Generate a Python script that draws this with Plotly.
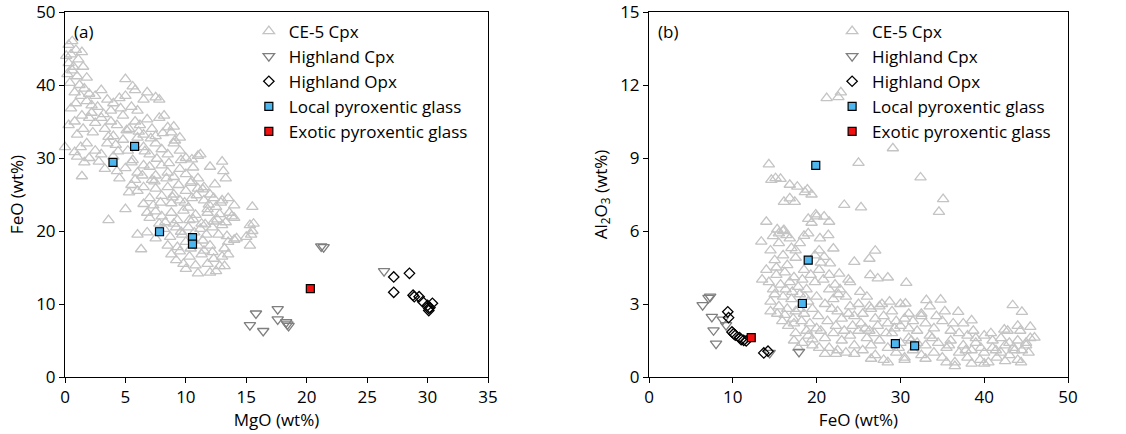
import plotly.graph_objects as go

# ---------------- Panel (a): MgO vs FeO ----------------
ce5_a_mgo = [0.3,0.6,0.1,0.5,0.9,1.4,1.1,0.3,0.7,
             0.2,0.6,1.0,1.5,1.8,0.4,1.2,1.6,0.8,2.0,1.3,
             0.5,0.9,1.8,2.5,3.0,2.7,3.5,4.0,4.5,5.0,3.8,2.2,1.4,5.5,6.0,6.5,6.8,7.5,7.8,5.0,5.6,5.8,
             0.3,0.8,1.5,2.0,2.5,3.0,3.3,3.8,4.3,4.8,5.3,5.8,6.2,6.8,7.2,7.8,8.2,8.5,9.0,1.0,2.3,4.0,6.5,7.5,8.8,9.5,
             0.0,0.8,1.3,1.8,2.5,3.0,3.5,4.2,4.8,5.2,6.0,6.5,7.0,7.5,8.0,8.5,9.0,9.5,10.0,10.5,11.0,11.2,2.0,1.0,4.0,
             1.4,1.6,2.8,3.3,4.3,5.0,5.5,6.0,6.5,7.0,7.5,8.0,8.5,9.0,9.5,10.0,10.5,11.0,12.0,13.0,13.1,13.3,4.5,5.8,7.2,11.5,
             5.5,6.0,5.3,6.5,7.0,7.5,8.0,8.5,9.0,9.5,10.0,10.5,11.0,11.5,12.0,12.3,13.0,13.5,14.0,8.8,7.3,6.5,10.2,11.8,12.5,
             5.0,6.8,7.0,7.5,8.0,8.3,8.8,9.3,9.8,10.3,10.8,11.3,11.8,12.3,12.8,13.3,13.6,14.0,13.8,15.5,7.8,9.0,3.6,
             6.0,6.8,7.5,8.2,8.7,9.2,9.7,10.2,10.7,11.2,11.7,12.2,12.7,13.0,13.4,14.0,15.0,15.3,15.5,15.6,15.4,15.3,8.5,9.3,10.0,11.0,12.0,13.5,14.2,
             6.3,8.8,9.2,9.8,10.3,10.8,11.0,11.3,11.8,12.0,12.3,12.8,13.0,13.2,13.5,10.0,12.5,11.5,9.5,
             2.2,3.2,4.6,5.1,6.1,7.1,8.1,9.1,3.6,4.4,5.6,6.6,7.6,8.6,9.6,10.6,6.4,7.4,8.4,9.4,10.4,11.4,12.4,
             7.9,8.9,9.9,10.9,11.9,12.9,9.6,10.6,11.6,12.6,10.4,11.4,12.2,13.2]
ce5_a_feo = [45.5,46.0,44.0,44.2,44.8,44.5,43.5,43.0,42.5,
             41.5,42.0,41.2,42.5,41.0,40.3,40.0,39.5,39.0,38.8,38.5,
             36.8,37.5,37.8,38.5,39.3,37.0,38.0,37.5,38.2,38.5,36.5,36.2,35.8,37.0,36.5,38.0,39.0,38.3,38.0,40.8,39.8,39.3,
             34.5,35.0,34.0,35.5,34.8,35.5,34.0,35.0,34.5,35.8,34.0,35.0,34.5,35.3,34.0,35.5,35.8,34.2,34.3,33.2,33.5,33.0,33.2,33.0,33.5,32.8,
             31.5,30.8,31.5,32.0,31.0,30.5,32.0,31.8,32.5,31.0,32.8,31.5,30.5,32.0,31.2,30.5,32.0,31.0,30.0,29.8,30.3,30.5,30.0,30.2,30.2,
             27.5,29.4,29.5,28.5,28.2,28.6,29.4,28.0,29.0,28.8,27.6,29.0,28.0,27.4,28.5,27.8,26.8,27.2,28.8,29.5,28.2,27.2,27.2,27.0,27.0,26.0,
             26.3,25.5,25.3,26.0,24.5,25.8,24.8,26.0,25.0,24.2,25.5,24.5,25.8,24.2,25.0,24.5,24.2,24.5,23.5,23.8,23.5,23.7,23.2,23.0,23.3,
             23.0,22.5,21.8,22.7,22.0,21.2,22.5,21.5,22.8,21.5,22.2,21.0,22.5,21.3,22.3,21.2,22.5,21.8,22.0,23.3,21.0,21.0,21.5,
             19.5,19.8,19.0,20.3,19.2,20.5,19.5,20.5,19.8,20.3,19.5,20.5,19.5,20.8,19.3,18.8,19.2,20.8,20.0,21.0,19.5,18.0,18.0,17.8,18.5,18.0,18.0,18.5,19.0,
             17.5,16.8,16.0,15.5,16.5,15.3,14.2,16.8,15.5,14.3,16.2,15.2,16.5,15.2,16.8,14.8,14.5,17.3,17.2,
             37.2,36.0,36.8,33.8,33.6,32.7,33.4,32.4,32.9,30.9,29.7,30.9,29.9,29.3,29.7,28.7,27.6,26.8,27.2,26.3,26.6,25.7,26.4,
             23.9,24.6,23.9,24.9,23.6,23.9,19.9,21.6,20.9,21.6,17.6,18.7,17.1,17.6]

hcpx_a_mgo = [15.3,15.8,16.4,17.6,17.6,18.3,18.4,18.5,21.4,21.2,26.4]
hcpx_a_feo = [7.1,8.7,6.3,9.3,7.9,7.5,7.2,7.0,17.8,17.9,14.5]

hopx_a_mgo = [27.2,27.2,28.5,28.8,28.9,29.3,29.6,30.0,30.4,30.1,30.2,30.1]
hopx_a_feo = [13.7,11.6,14.2,11.2,11.0,11.0,10.3,9.8,10.1,9.4,9.5,9.1]

local_a_mgo = [3.97,5.76,7.82,10.55,10.55]
local_a_feo = [29.4,31.6,19.9,19.1,18.2]

exotic_a_mgo = [20.3]
exotic_a_feo = [12.1]

# ---------------- Panel (b): FeO vs Al2O3 ----------------
ce5_b_feo = [21.2,22.6,22.9,29.1,14.3,25.0,32.4,23.3,25.3,35.1,34.6,27.0,26.3,24.5,26.4,27.3,28.5,30.7,33.1,34.8,43.4,44.5,45.5,46.0,42.4,38.5,36.9,32.5,30.6,
             14.6,15.1,15.7,16.8,16.1,16.8,17.4,17.7,18.6,18.9,19.4,
             13.4,14.0,15.3,16.1,16.4,14.8,19.4,19.9,20.9,21.5,20.4,21.4,22.0,20.9,21.6,22.7,
             14.5,15.0,15.5,16.0,16.5,17.0,17.5,18.0,18.5,19.0,14.0,14.3,14.8,15.2,15.7,16.2,16.8,17.3,17.8,18.3,18.8,19.3,19.8,20.3,20.8,
             14.5,15.0,15.5,16.0,16.5,17.0,17.5,18.0,18.5,19.0,19.5,20.0,15.3,16.2,17.2,18.2,19.2,20.2,21.0,21.5,22.0,22.5,21.3,22.8,23.5,24.0,23.0,24.5,
             25.0,25.5,26.0,26.5,27.0,27.5,28.0,28.5,29.0,29.5,30.0,30.5,31.0,31.5,32.0,33.0,34.0,35.0,36.0,37.0,38.0,39.0,40.0,41.0,42.0,43.0,44.0,45.0,45.5,
             17.3,17.5,18.3,19.0,19.5,20.5,21.0,21.5,22.0,22.5,23.0,23.5,24.0,24.5,25.0,25.5,26.0,26.5,27.0,27.5,28.0,28.5,29.0,29.5,30.0,30.5,31.0,31.5,32.0,32.5,
             33.0,33.5,34.0,34.5,35.0,35.5,36.0,36.5,37.0,37.5,38.0,38.5,39.0,39.5,40.0,40.5,41.0,41.5,42.0,42.5,43.0,43.5,44.0,44.5,45.0,45.3,44.4,36.5,
             22.3,23.3,24.3,25.3,26.3,27.3,28.3,29.3,26.3,27.8,28.7,25.2,24.0,23.8,30.0,31.0,32.5,33.5,34.3,35.3,36.3,37.5,38.7,40.8,42.8,44.3,44.0,
             16.0,15.5,16.8,17.5,18.5,19.0,20.0,20.3,19.8,20.5,21.5,22.2,14.5,13.5,17.3,18.8,19.5,20.0,17.8,20.3,21.0,22.3,24.5,26.5,28.5,30.5,33.0,35.5,38.5,40.0,42.5,
             15.2,16.3,17.1,15.9,16.6,17.9,18.6,21.8,22.6,23.8,25.8,26.9,29.8,31.3,33.8,35.8,37.8,39.6,41.4,43.6]
ce5_b_al = [11.46,11.5,11.7,9.4,8.74,8.8,8.2,7.07,6.97,7.31,6.79,5.19,4.86,4.73,4.19,4.05,4.09,3.87,3.16,3.18,2.95,2.68,2.06,1.62,1.95,2.33,2.68,2.6,3.02,
            8.1,8.17,8.14,7.9,7.2,7.34,7.2,7.82,7.6,7.7,7.5,
            5.56,6.38,6.07,6.04,5.83,5.79,6.34,6.68,6.59,6.38,5.7,5.83,5.28,4.94,4.67,4.25,
            5.2,4.8,5.5,5.0,4.6,5.3,4.9,5.5,4.4,5.9,4.4,3.9,3.6,4.2,3.8,4.3,3.9,4.1,3.7,4.0,3.6,4.2,3.9,4.4,4.0,
            3.1,3.4,2.9,3.3,2.8,3.2,2.7,3.4,2.6,3.1,2.8,3.3,2.6,2.55,2.4,2.3,2.2,2.5,3.0,3.6,3.2,2.7,2.3,3.6,3.3,2.9,2.4,2.5,
            3.0,2.6,3.3,2.8,2.4,2.9,2.5,2.2,2.7,2.3,2.1,2.4,2.0,2.3,1.9,2.2,2.0,2.3,1.9,1.8,1.7,1.6,1.7,1.5,1.6,1.4,1.5,1.3,1.6,
            1.5,1.8,1.4,1.7,1.3,1.9,1.6,1.2,1.8,1.1,1.5,1.0,1.7,1.3,1.9,1.1,1.6,1.3,0.9,1.5,0.7,1.2,1.8,1.0,1.4,0.8,1.6,1.1,1.4,0.9,
            1.3,1.7,1.0,1.4,0.8,1.2,1.5,0.6,1.0,1.3,0.8,1.1,1.4,0.7,1.0,0.6,1.2,0.8,1.0,1.3,0.9,1.2,0.7,1.1,1.4,1.0,0.6,0.45,
            2.1,1.9,2.1,2.2,1.9,2.1,1.8,2.0,2.9,3.0,3.1,3.5,3.9,4.0,3.0,2.6,2.5,2.9,2.5,2.7,2.2,2.2,1.9,1.8,1.9,1.9,2.1,
            6.0,5.9,5.7,5.2,5.8,6.5,6.6,5.2,5.0,4.7,4.2,3.8,2.7,4.0,2.2,1.9,1.55,2.0,1.2,1.2,0.95,0.95,0.95,0.75,0.6,0.7,0.75,0.6,0.55,0.55,0.65,
            4.5,3.6,3.5,2.3,2.1,2.8,3.3,2.8,3.4,2.6,2.0,1.8,1.2,1.5,1.6,1.3,1.1,1.2,1.1,1.1]

hcpx_b_feo = [6.4,7.1,7.3,7.5,7.7,8.0,8.8,9.2,17.9,14.4]
hcpx_b_al = [2.95,3.25,3.3,2.47,1.92,1.37,2.36,2.13,1.03,0.99]

hopx_b_feo = [9.4,9.5,9.9,10.1,10.3,10.8,11.0,11.3,11.6,13.7,14.2]
hopx_b_al = [2.68,2.44,1.85,1.78,1.72,1.62,1.54,1.51,1.48,0.99,1.06]

local_b_feo = [19.9,19.0,18.3,29.4,31.7]
local_b_al = [8.7,4.8,3.02,1.37,1.28]

exotic_b_feo = [12.2]
exotic_b_al = [1.62]

names = ["CE-5 Cpx", "Highland Cpx", "Highland Opx", "Local pyroxentic glass", "Exotic pyroxentic glass"]

FONT = "Open Sans"
GRAY_LIGHT = "#c4c4c4"
GRAY_DARK = "#7f7f7f"
BLUE = "#4db6ee"
RED = "#f21010"

styles = [
    dict(symbol="triangle-up-open", size=10, color=GRAY_LIGHT, line=dict(width=1.3, color=GRAY_LIGHT)),
    dict(symbol="triangle-down-open", size=10, color=GRAY_DARK, line=dict(width=1.3, color=GRAY_DARK)),
    dict(symbol="diamond-open", size=8, color="black", line=dict(width=1.3, color="black")),
    dict(symbol="square", size=8, color=BLUE, line=dict(width=1.2, color="black")),
    dict(symbol="square", size=8, color=RED, line=dict(width=1.2, color="black")),
]

fig = go.Figure()

panel_a = [(ce5_a_mgo, ce5_a_feo), (hcpx_a_mgo, hcpx_a_feo), (hopx_a_mgo, hopx_a_feo),
           (local_a_mgo, local_a_feo), (exotic_a_mgo, exotic_a_feo)]
panel_b = [(ce5_b_feo, ce5_b_al), (hcpx_b_feo, hcpx_b_al), (hopx_b_feo, hopx_b_al),
           (local_b_feo, local_b_al), (exotic_b_feo, exotic_b_al)]

for i, (xs, ys) in enumerate(panel_a):
    fig.add_trace(go.Scatter(x=xs, y=ys, mode="markers", name=names[i], marker=styles[i],
                             xaxis="x", yaxis="y", legend="legend", cliponaxis=False))
for i, (xs, ys) in enumerate(panel_b):
    fig.add_trace(go.Scatter(x=xs, y=ys, mode="markers", name=names[i], marker=styles[i],
                             xaxis="x2", yaxis="y2", legend="legend2", cliponaxis=False))

W, H = 1126, 434
MB = 57
PH = H - MB  # plotting region height (t=0)
top_frac = 1 - 12 / PH

axis_common = dict(showline=True, mirror=True, linecolor="black", linewidth=1,
                   ticks="outside", ticklen=5, tickwidth=1, tickcolor="black",
                   showgrid=False, zeroline=False, ticklabeloverflow="allow", automargin=False,
                   tickfont=dict(family=FONT, size=17, color="black"),
                   title_font=dict(family=FONT, size=17, color="black"))

x1 = (65 / W, 488 / W)
x2 = (649 / W, 1068 / W)

fig.update_layout(
    width=W, height=H,
    margin=dict(l=0, r=0, t=0, b=MB),
    paper_bgcolor="white", plot_bgcolor="white",
    font=dict(family=FONT, size=17, color="black"),
    xaxis=dict(domain=list(x1), range=[0, 35], tickvals=[0, 5, 10, 15, 20, 25, 30, 35],
               title=dict(text="MgO (wt%)", standoff=6), anchor="y", **axis_common),
    yaxis=dict(domain=[0, top_frac], range=[0, 50], tickvals=[0, 10, 20, 30, 40, 50],
               title=dict(text="FeO (wt%)", standoff=8), anchor="x", **axis_common),
    xaxis2=dict(domain=list(x2), range=[0, 50], tickvals=[0, 10, 20, 30, 40, 50],
                title=dict(text="FeO (wt%)", standoff=6), anchor="y2", **axis_common),
    yaxis2=dict(domain=[0, top_frac], range=[0, 15], tickvals=[0, 3, 6, 9, 12, 15],
                title=dict(text="Al<sub>2</sub>O<sub>3</sub> (wt%)", standoff=8), anchor="x2", **axis_common),
    legend=dict(x=0.221, y=(PH - 13.5) / PH, xanchor="left", yanchor="top", bgcolor="rgba(0,0,0,0)",
                font=dict(family=FONT, size=17, color="black"), itemwidth=30, tracegroupgap=0),
    legend2=dict(x=0.739, y=(PH - 13.5) / PH, xanchor="left", yanchor="top", bgcolor="rgba(0,0,0,0)",
                 font=dict(family=FONT, size=17, color="black"), itemwidth=30, tracegroupgap=0),
    annotations=[
        dict(text="(a)", xref="paper", yref="paper", x=72 / W, y=(PH - 32) / PH, xanchor="left", yanchor="middle",
             showarrow=False, font=dict(family=FONT, size=17, color="black")),
        dict(text="(b)", xref="paper", yref="paper", x=656 / W, y=(PH - 32) / PH, xanchor="left", yanchor="middle",
             showarrow=False, font=dict(family=FONT, size=17, color="black")),
    ],
)

fig.write_html("out.html")
